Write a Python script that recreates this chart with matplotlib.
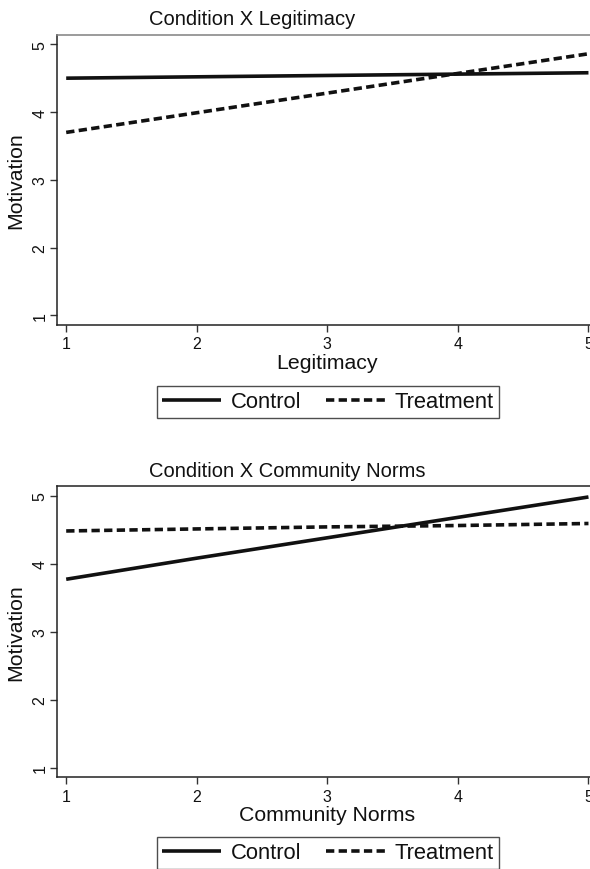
import numpy as np
from matplotlib import pyplot as plt

plt.rcParams['font.family'] = ['Liberation Sans', 'DejaVu Sans']

# values
x = [1, 2, 3, 4, 5]
legit_control = [4.50, 4.52, 4.54, 4.56, 4.58]
legit_treatment = [3.70, 3.99, 4.28, 4.57, 4.86]
norms_control = [3.77, 4.08, 4.38, 4.68, 4.98]
norms_treatment = [4.48, 4.51, 4.54, 4.56, 4.59]
yticks = [1, 2, 3, 4, 5]

titles = ["Condition X Legitimacy", "Condition X Community Norms"]
xlabels = ["Legitimacy", "Community Norms"]
series = [(legit_control, legit_treatment), (norms_control, norms_treatment)]

W, H = 590, 870
fig = plt.figure(figsize=(W / 100, H / 100), dpi=100)

# pixel layout: (axes top, axes bottom, title baseline, legend centre)
layout = [(36, 325.5, 25, 403), (487.3, 777.7, 477, 854)]
ink = '#111111'

for i in range(2):
    top, bot, tbase, lcen = layout[i]
    ax = fig.add_axes([57 / W, 1 - bot / H, 541 / W, (bot - top) / H])
    c, t = series[i]
    ax.plot(x, c, color=ink, lw=2.6, solid_capstyle='butt', label='Control')
    ax.plot(x, t, color=ink, lw=2.6, dashes=(2.3, 1.2), label='Treatment')
    ax.set_xlim(0.9296, 5.073)
    ax.set_ylim(0.866, 5.137)
    ax.set_xticks(x)
    ax.set_yticks(yticks)
    ax.tick_params(axis='both', length=5, width=1, color='#333333',
                   labelsize=11.5, labelcolor=ink)
    ax.tick_params(axis='x', pad=3.5)
    ax.tick_params(axis='y', pad=2)
    for lab in ax.get_yticklabels():
        lab.set_rotation(90)
        lab.set_va('center')
    for s in ['left', 'bottom']:
        ax.spines[s].set_color('#222222')
        ax.spines[s].set_linewidth(1.1)
    ax.spines['top'].set_color('#808080' if i == 0 else '#222222')
    ax.spines['top'].set_linewidth(1.1)
    ax.spines['right'].set_visible(False)
    ax.set_xlabel(xlabels[i], fontsize=15.3, color=ink, labelpad=1)
    ax.set_ylabel("Motivation", fontsize=15.3, color=ink, labelpad=5)
    fig.text(149 / W, 1 - tbase / H, titles[i], ha='left', va='baseline',
             fontsize=14.5, color=ink)
    leg = fig.legend(handles=ax.get_lines(), loc='center',
                     bbox_to_anchor=(328 / W, 1 - lcen / H), ncol=2,
                     fontsize=15.8, frameon=True, fancybox=False,
                     handlelength=2.7, handletextpad=0.45, columnspacing=1.1,
                     borderpad=0.25, borderaxespad=0)
    leg.get_frame().set_edgecolor('#222222')
    leg.get_frame().set_linewidth(1.0)
    for txt in leg.get_texts():
        txt.set_color(ink)

fig.savefig('out.png', dpi=100)
